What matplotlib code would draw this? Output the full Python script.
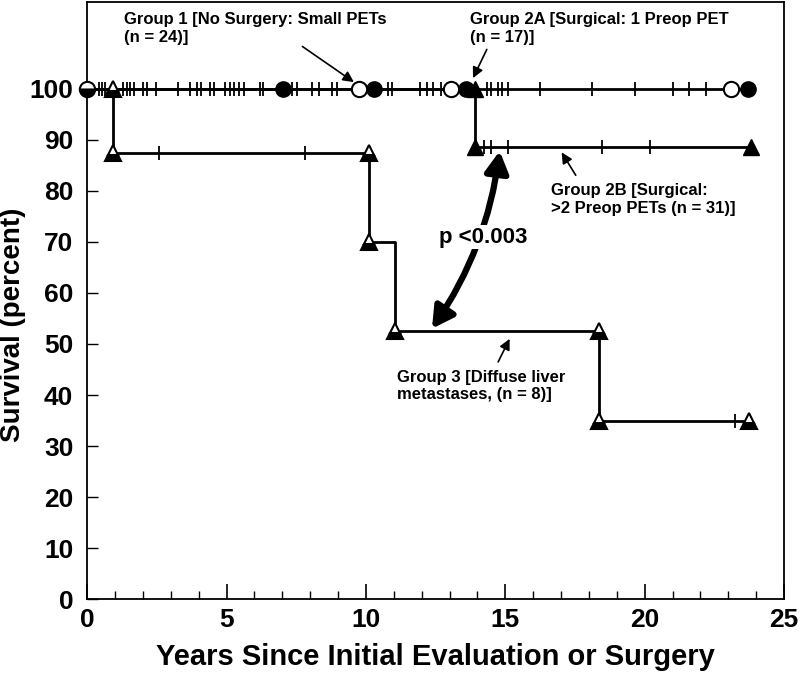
"""Kaplan-Meier style survival chart for PET patient groups."""

import matplotlib

matplotlib.use("Agg")
import matplotlib.pyplot as plt
from matplotlib.ticker import MultipleLocator

plt.rcParams["font.family"] = ["Liberation Sans", "DejaVu Sans"]
plt.rcParams["font.weight"] = "bold"

# Groups 1 and 2A: no deaths, stay at 100 %
flat_end = 23.7
flat_censor = [0.41, 0.52, 0.64, 1.3, 1.42, 1.54, 1.69, 2.0, 2.16, 2.47,
               3.27, 3.69, 3.93, 4.08, 4.39, 4.55, 4.95, 5.11, 5.25, 5.43,
               5.63, 6.2, 6.3, 7.34, 7.52, 8.06, 8.3, 8.78, 8.96, 10.8,
               10.93, 11.95, 12.2, 12.42, 12.69, 14.35, 14.5, 14.75, 14.9,
               15.1, 16.25, 18.1, 19.65, 21.0, 21.6, 22.2]
half_circles = [0.0]
filled_circles = [7.03, 10.3, 13.6, 23.7]
open_circles = [9.76, 13.06, 23.1]

# Group 2B
g2b_time = [0.0, 13.9, 23.8]
g2b_surv = [100.0, 88.5, 88.5]
g2b_mark_x = [13.9, 13.9, 23.8]
g2b_mark_y = [100.0, 88.5, 88.5]
g2b_censor = [14.24, 14.49, 15.1, 18.47, 20.19]

# Group 3
g3_time = [0.0, 0.93, 10.1, 11.05, 18.35, 23.75]
g3_surv = [100.0, 87.5, 70.0, 52.5, 35.0, 35.0]
g3_mark_x = [0.93, 0.93, 10.1, 10.1, 11.05, 18.35, 18.35, 23.75]
g3_mark_y = [100.0, 87.5, 87.5, 70.0, 52.5, 52.5, 35.0, 35.0]
g3_censor_x = [2.58, 7.8, 23.24]
g3_censor_y = [87.5, 87.5, 35.0]

fig = plt.figure(figsize=(8.0, 6.74), dpi=100)
ax = fig.add_axes([0.109, 0.111, 0.871, 0.886])

lw = 2.0
ax.plot([0, flat_end], [100, 100], color="black", lw=lw, zorder=2)
ax.plot(flat_censor, [100] * len(flat_censor), ls="none", marker="|",
        ms=10, mew=1.3, color="black", zorder=3)

ax.step(g2b_time, g2b_surv, where="post", color="black", lw=lw, zorder=2)
ax.plot(g2b_censor, [88.5] * len(g2b_censor), ls="none", marker="|",
        ms=10, mew=1.3, color="black", zorder=3)

ax.step(g3_time, g3_surv, where="post", color="black", lw=lw, zorder=2)
ax.plot(g3_censor_x, g3_censor_y, ls="none", marker="|",
        ms=10, mew=1.3, color="black", zorder=3)

ax.plot(half_circles, [100] * len(half_circles), ls="none", marker="o",
        ms=11, mfc="black", mfcalt="white", fillstyle="bottom",
        mec="black", mew=1.5, zorder=5, clip_on=False)
ax.plot(filled_circles, [100] * len(filled_circles), ls="none", marker="o",
        ms=11, mfc="black", mec="black", zorder=5)
ax.plot(open_circles, [100] * len(open_circles), ls="none", marker="o",
        ms=11, mfc="white", mec="black", mew=1.5, zorder=5)
ax.plot(g2b_mark_x, g2b_mark_y, ls="none", marker="^", ms=12,
        mfc="black", mec="black", zorder=5)
ax.plot(g3_mark_x, g3_mark_y, ls="none", marker="^", ms=12,
        mfc="black", mfcalt="white", fillstyle="bottom",
        mec="black", mew=1.5, zorder=5)

# annotations
note_kw = dict(fontsize=12, fontweight="bold", va="top", ha="left")
thin_arrow = dict(arrowstyle="-|>", color="black", lw=1.2, mutation_scale=16)
ax.text(1.33, 115.0, "Group 1 [No Surgery: Small PETs\n(n = 24)]", **note_kw)
ax.annotate("", xy=(9.65, 101.0), xytext=(7.64, 108.6), arrowprops=thin_arrow)
ax.text(13.74, 115.0, "Group 2A [Surgical: 1 Preop PET\n(n = 17)]", **note_kw)
ax.annotate("", xy=(13.8, 101.6), xytext=(14.38, 108.2), arrowprops=thin_arrow)
ax.text(16.64, 81.5, "Group 2B [Surgical:\n>2 Preop PETs (n = 31)]", **note_kw)
ax.annotate("", xy=(16.97, 88.0), xytext=(17.58, 82.6), arrowprops=thin_arrow)
ax.text(11.12, 45.0, "Group 3 [Diffuse liver\nmetastases, (n = 8)]", **note_kw)
ax.annotate("", xy=(15.2, 51.5), xytext=(14.7, 46.0), arrowprops=thin_arrow)

ax.annotate("", xy=(14.8, 87.8), xytext=(12.37, 53.0), zorder=4,
            arrowprops=dict(arrowstyle="<|-|>,head_length=0.9,head_width=0.5",
                            connectionstyle="arc3,rad=0.12", color="black",
                            lw=4.5, mutation_scale=14, shrinkA=0, shrinkB=0))
ax.text(12.63, 70.9, "p <0.003", fontsize=16, fontweight="bold",
        va="center", ha="left", zorder=6,
        bbox=dict(facecolor="white", edgecolor="none", pad=1.0))

ax.set_xlim(0, 25)
ax.set_ylim(0, 117)
ax.xaxis.set_major_locator(MultipleLocator(5))
ax.xaxis.set_minor_locator(MultipleLocator(1))
ax.set_yticks(range(0, 101, 10))
ax.tick_params(axis="x", which="major", direction="in", length=11, width=1.2,
               labelsize=19, pad=6)
ax.tick_params(axis="x", which="minor", direction="in", length=6, width=1.0)
ax.tick_params(axis="y", which="major", direction="in", length=8, width=1.0,
               labelsize=19, pad=10)
for lab in ax.get_xticklabels() + ax.get_yticklabels():
    lab.set_fontweight("bold")
for spine in ax.spines.values():
    spine.set_linewidth(1.3)

ax.set_xlabel("Years Since Initial Evaluation or Surgery", fontsize=21,
              fontweight="bold", labelpad=8)
ax.set_ylabel("Survival (percent)", fontsize=20, fontweight="bold")
ax.yaxis.set_label_coords(-0.088, 0.46)

fig.savefig("out.png", dpi=100)
